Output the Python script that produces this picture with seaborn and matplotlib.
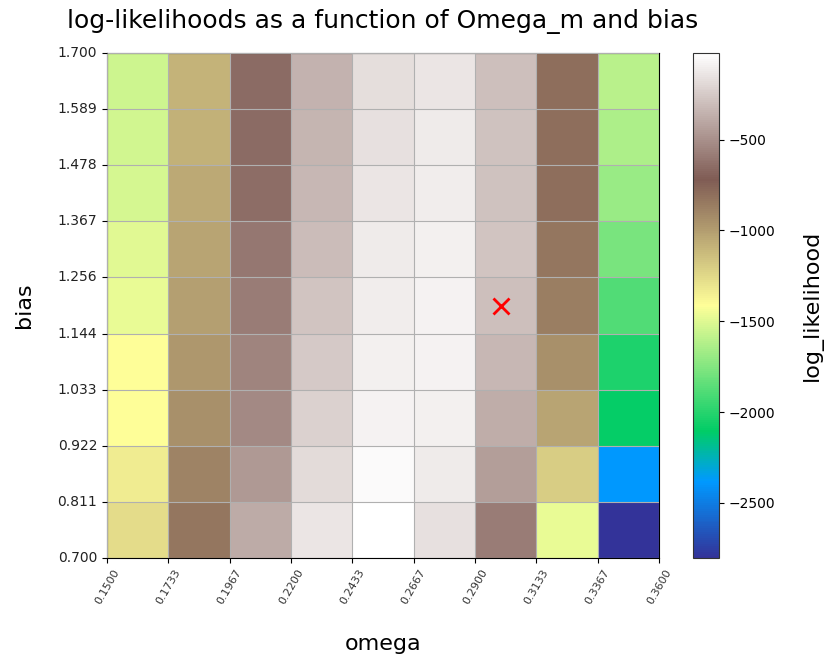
import numpy as np
import pandas as pd
import matplotlib
matplotlib.use("Agg")
import matplotlib.pyplot as plt
import seaborn as sns

# tick labels (cell edges)
omega_ticks = ["0.1500", "0.1733", "0.1967", "0.2200", "0.2433",
               "0.2667", "0.2900", "0.3133", "0.3367", "0.3600"]
bias_ticks = ["1.700", "1.589", "1.478", "1.367", "1.256",
              "1.144", "1.033", "0.922", "0.811", "0.700"]

# cell centres
omega_centers = [0.1617, 0.1850, 0.2083, 0.2317, 0.2550, 0.2783, 0.3017, 0.3250, 0.3483]
bias_centers = [1.644, 1.533, 1.422, 1.311, 1.200, 1.089, 0.978, 0.867, 0.756]

# log-likelihood per omega column (rows top -> bottom, bias high -> low)
ll_omega_0 = [-1552, -1538, -1524, -1496, -1469, -1413, -1413, -1330, -1266]
ll_omega_1 = [-1093, -1079, -1052, -1024, -1010, -968, -940, -885, -829]
ll_omega_2 = [-662, -662, -648, -607, -585, -551, -523, -459, -387]
ll_omega_3 = [-351, -343, -329, -312, -279, -257, -226, -182, -137]
ll_omega_4 = [-170, -156, -137, -115, -106, -93, -79, -51, -23]
ll_omega_5 = [-134, -115, -106, -93, -87, -87, -93, -115, -159]
ll_omega_6 = [-296, -287, -284, -282, -301, -329, -376, -443, -585]
ll_omega_7 = [-801, -801, -801, -829, -868, -940, -1032, -1199, -1477]
ll_omega_8 = [-1608, -1635, -1691, -1774, -1886, -2025, -2094, -2386, -2803]

best_omega = 0.300
best_bias = 1.200

cols = [ll_omega_0, ll_omega_1, ll_omega_2, ll_omega_3, ll_omega_4,
        ll_omega_5, ll_omega_6, ll_omega_7, ll_omega_8]
df = pd.DataFrame(np.array(cols).T, index=bias_centers, columns=omega_centers)

fig = plt.figure(figsize=(8.26, 6.56), dpi=100)
ax = fig.add_axes([107 / 826, 1 - 558 / 656, 552 / 826, 505 / 656])
cax = fig.add_axes([693 / 826, 1 - 558 / 656, 26 / 826, 505 / 656])

sns.heatmap(df, cmap="terrain", ax=ax, cbar_ax=cax)

pos = np.arange(len(omega_ticks))
ax.set_xticks(pos)
ax.set_xticklabels(omega_ticks, rotation=60, fontsize=8, color="#333333",
                   ha="center", rotation_mode="default")
ax.set_yticks(pos)
ax.set_yticklabels(bias_ticks, rotation=0, fontsize=10, color="#222222")
ax.tick_params(length=3.5, width=0.8, color="black", direction="out")

ax.grid(True, color="#b0b0b0", linewidth=0.8)
ax.set_axisbelow(False)
for s in ax.spines.values():
    s.set_visible(True)
    s.set_color("black")
    s.set_linewidth(0.8)

# best-fit marker through the axis mapping
omega_vals = np.array([float(t) for t in omega_ticks])
bias_vals = np.array([float(t) for t in bias_ticks])
mx = np.interp(best_omega, omega_vals, pos)
my = np.interp(best_bias, bias_vals[::-1], pos[::-1])
ax.plot([mx], [my], marker="x", color="red", markersize=11, mew=2, linestyle="none")

ax.set_xlabel("omega", fontsize=16, labelpad=20)
ax.set_ylabel("bias", fontsize=16, labelpad=17)
ax.set_title("log-likelihoods as a function of Omega_m and bias", fontsize=18, pad=18)

cb = ax.collections[0].colorbar
cb.outline.set_visible(True)
cb.outline.set_linewidth(0.8)
cb.outline.set_edgecolor("#333333")
cb.set_ticks([-500, -1000, -1500, -2000, -2500])
cb.ax.tick_params(labelsize=10, length=3.5, width=0.8)
cb.set_label("log_likelihood", fontsize=16, labelpad=19)

fig.savefig("out.png", dpi=100)
